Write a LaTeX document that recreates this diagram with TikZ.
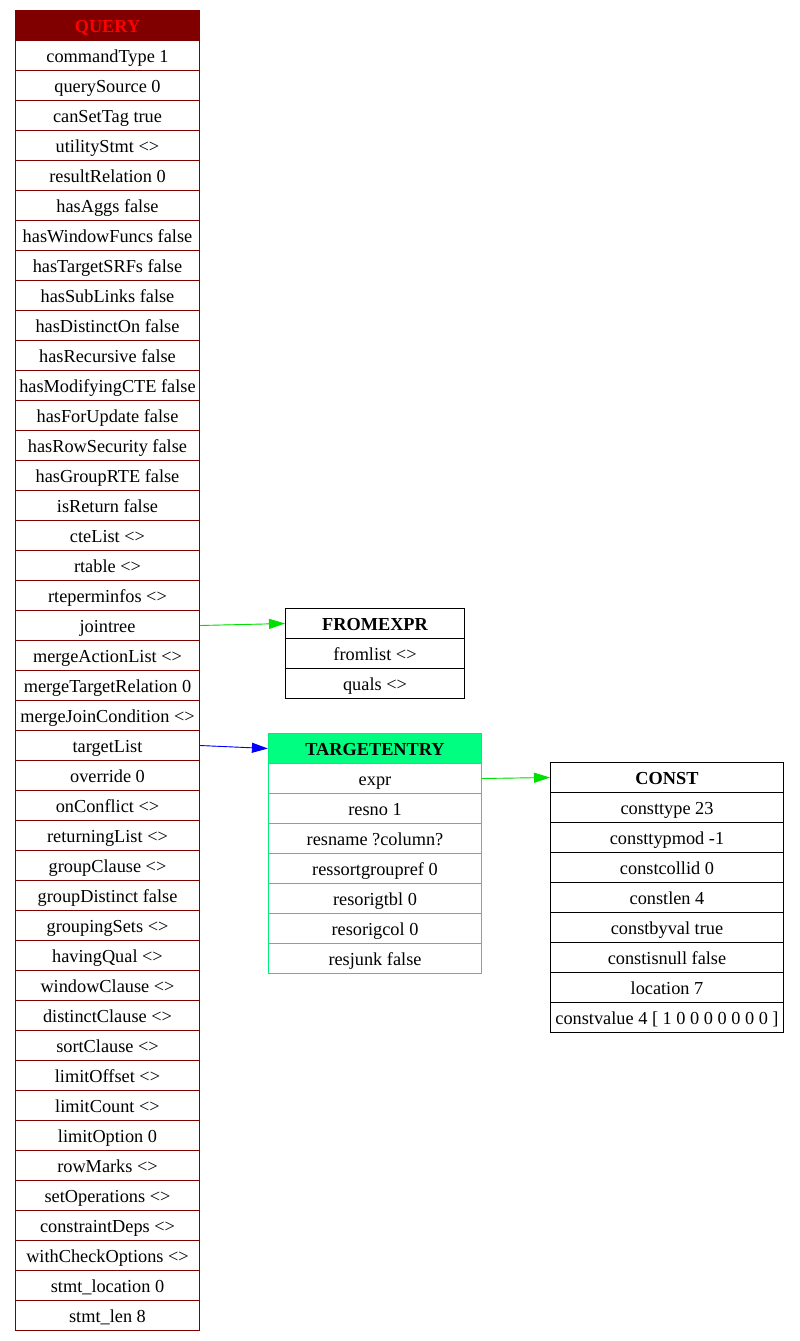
\documentclass[tikz,border=0pt]{standalone}
\usepackage{fontspec}
\setmainfont{Liberation Serif}
\usetikzlibrary{arrows.meta}
\definecolor{qred}{HTML}{800000}
\definecolor{tgreen}{HTML}{00FF80}
\definecolor{tborder}{HTML}{00EE77}
\definecolor{agreen}{HTML}{00E000}
\tikzset{
  cell/.style={draw, rectangle, inner sep=0pt, minimum height=30pt, line width=1pt, text height=16pt, text depth=2pt, font=\fontsize{18.3}{20}\selectfont},
  qcell/.style={cell, draw=qred, minimum width=184pt},
  qhead/.style={qcell, fill=qred, text=red, font=\fontsize{18.3}{20}\selectfont\bfseries},
  fcell/.style={cell, draw=black, minimum width=179pt},
  fhead/.style={fcell, font=\fontsize{18.3}{20}\selectfont\bfseries},
  tcell/.style={cell, draw=tborder, line width=1.2pt, minimum width=213pt},
  thead/.style={tcell, fill=tgreen, font=\fontsize{18.3}{20}\selectfont\bfseries},
  ccell/.style={cell, draw=black, minimum width=233pt},
  chead/.style={ccell, font=\fontsize{18.3}{20}\selectfont\bfseries},
  link/.style={line width=0.9pt, -{Triangle[length=16pt,width=10pt]}},
}
\begin{document}
\begin{tikzpicture}[x=1pt,y=-1pt]
\useasboundingbox (0,0) rectangle (800,1341);
\fill[white] (0,0) rectangle (800,1341);
\begin{scope}[shift={(0.5,0.5)}]
% QUERY
\node[qhead] (q0) at (107,25) {QUERY};
\foreach \t [count=\i] in {commandType 1, querySource 0, canSetTag true, utilityStmt <>, resultRelation 0, hasAggs false, hasWindowFuncs false, hasTargetSRFs false, hasSubLinks false, hasDistinctOn false, hasRecursive false, hasModifyingCTE false, hasForUpdate false, hasRowSecurity false, hasGroupRTE false, isReturn false, cteList <>, rtable <>, rteperminfos <>, jointree, mergeActionList <>, mergeTargetRelation 0, mergeJoinCondition <>, targetList, override 0, onConflict <>, returningList <>, groupClause <>, groupDistinct false, groupingSets <>, havingQual <>, windowClause <>, distinctClause <>, sortClause <>, limitOffset <>, limitCount <>, limitOption 0, rowMarks <>, setOperations <>, constraintDeps <>, withCheckOptions <>, stmt\_location 0, stmt\_len 8}
  \node[qcell] (q\i) at (107,25+30*\i) {\t};
% FROMEXPR
\node[fhead] (f0) at (374.5,623) {FROMEXPR};
\node[fcell] (f1) at (374.5,653) {fromlist <>};
\node[fcell] (f2) at (374.5,683) {quals <>};
% TARGETENTRY
\node[thead] (t0) at (374.5,748) {TARGETENTRY};
\foreach \t [count=\i] in {expr, resno 1, resname ?column?, ressortgroupref 0, resorigtbl 0, resorigcol 0, resjunk false}
  \node[tcell] (t\i) at (374.5,748+30*\i) {\t};
% CONST
\node[chead] (c0) at (666.5,777) {CONST};
\foreach \t [count=\i] in {consttype 23, consttypmod -1, constcollid 0, constlen 4, constbyval true, constisnull false, location 7, {constvalue 4 [ 1 0 0 0 0 0 0 0 ]}}
  \node[ccell] (c\i) at (666.5,777+30*\i) {\t};
% links
\draw[link, draw=agreen, fill=agreen] (q20.east) -- (f0.west);
\draw[link, draw=blue, fill=blue] (q24.east) -- (t0.west);
\draw[link, draw=agreen, fill=agreen] (t1.east) -- (c0.west);
\end{scope}
\end{tikzpicture}
\end{document}
